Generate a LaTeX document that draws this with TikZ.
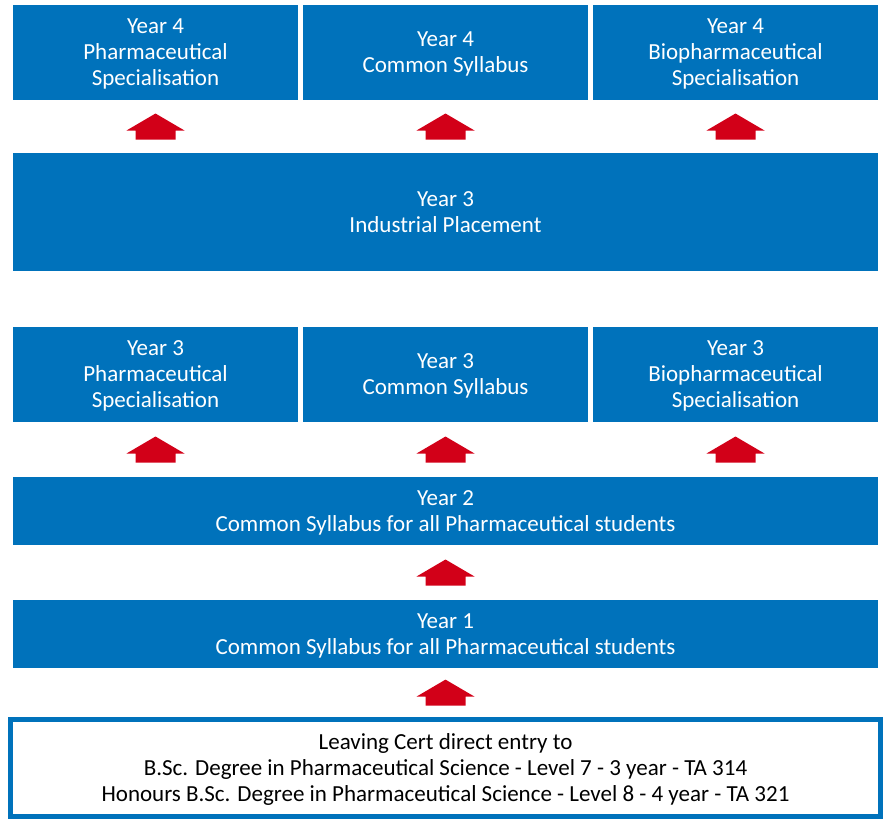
\documentclass[tikz,border=0pt]{standalone}
\usepackage{fontspec}
\setmainfont{Carlito}
\usetikzlibrary{positioning,calc}
\definecolor{tcdblue}{RGB}{0,114,187}
\definecolor{arrowred}{RGB}{210,0,24}
\begin{document}
\begin{tikzpicture}[x=1pt,y=-1pt,node distance=290pt,
    year box/.style={fill=tcdblue,text=white,align=center,inner sep=0pt,
      minimum width=285pt,minimum height=95pt,font=\fontsize{23}{26}\selectfont,
      text depth=-6pt},
    wide box/.style={year box,minimum width=865pt,minimum height=68pt},
    entry box/.style={year box,draw=tcdblue,line width=5pt,fill=white,text=black,
      minimum width=870pt,minimum height=97pt},
    up arrow/.pic={\fill[arrowred] (-20,13) -- (20,13) -- (20,4) -- (29,4) -- (0,-13) -- (-29,4) -- (-20,4) -- cycle;}]
    \useasboundingbox (0,0) rectangle (883,819);

    \node[year box] (y4p) at (155.5,52.5) {Year 4\\Pharmaceutical\\Specialisation};
    \node[year box] (y4c) [right of=y4p] {Year 4\\Common Syllabus};
    \node[year box] (y4b) [right of=y4c] {Year 4\\Biopharmaceutical\\Specialisation};

    \node[wide box,minimum height=118pt] (y3i) at (445.5,212) {Year 3\\Industrial Placement};

    \node[year box] (y3p) at (155.5,374.5) {Year 3\\Pharmaceutical\\Specialisation};
    \node[year box] (y3c) [right of=y3p] {Year 3\\Common Syllabus};
    \node[year box] (y3b) [right of=y3c] {Year 3\\Biopharmaceutical\\Specialisation};

    \node[wide box] (y2) at (445.5,511) {Year 2\\Common Syllabus for all Pharmaceutical students};
    \node[wide box] (y1) at (445.5,634) {Year 1\\Common Syllabus for all Pharmaceutical students};

    \node[entry box] (lc) at (445.5,768) {Leaving Cert direct entry to\\
      B.Sc. Degree in Pharmaceutical Science - Level 7 - 3 year - TA 314\\
      Honours B.Sc. Degree in Pharmaceutical Science - Level 8 - 4 year - TA 321};

    % block arrows between the rows
    \foreach \a/\b in {y4p/y3i, y4c/y3i, y4b/y3i, y3p/y2, y3c/y2, y3b/y2, y2/y1, y1/lc}
        \pic at ($(\a.south)!.5!(\b.north -| \a.south)$) {up arrow};
\end{tikzpicture}
\end{document}
